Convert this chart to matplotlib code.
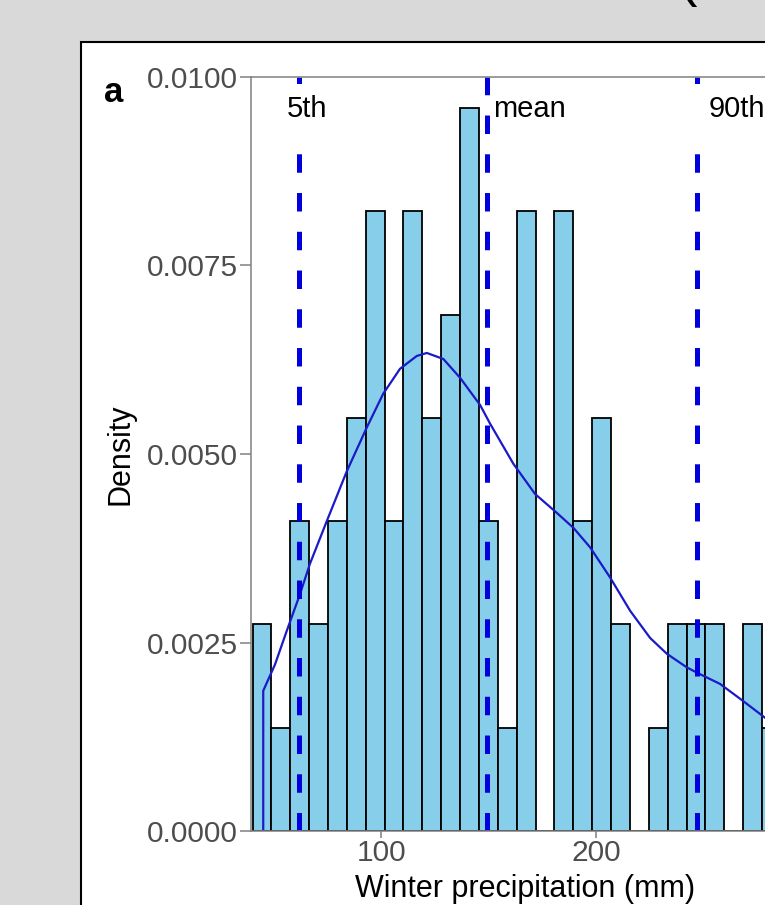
import matplotlib
matplotlib.use('Agg')
import matplotlib.pyplot as plt
from matplotlib.patches import Rectangle
import numpy as np

plt.rcParams['font.family'] = ['Liberation Sans', 'DejaVu Sans']
plt.rcParams['lines.scale_dashes'] = False

#---------------------------- data ----------------------------#

# histogram (density of each bin, bins of equal width)
bin_start = 40.0
bin_width = 8.79
bar_density = [0.00274, 0.00137, 0.00411, 0.00274, 0.00411, 0.00548, 0.00822,
               0.00411, 0.00822, 0.00548, 0.00685, 0.00959, 0.00411, 0.00137,
               0.00822, 0.0, 0.00822, 0.00411, 0.00548, 0.00274, 0.0, 0.00137,
               0.00274, 0.00274, 0.00274, 0.0, 0.00274, 0.00137]

# kernel density outline
kde_x = [45.0, 45.0, 50.5, 55.9, 62.1, 66.7, 74.6, 83.9, 93.2, 100.9, 108.7,
         116.5, 121.2, 128.9, 136.7, 146.0, 150.7, 161.5, 171.6, 181.7, 189.5,
         197.3, 206.6, 215.9, 225.2, 233.0, 242.3, 247.0, 257.8, 268.7, 278.8]
kde_y = [0.0, 0.00186, 0.00221, 0.00265, 0.00314, 0.00354, 0.00411, 0.00477,
         0.00535, 0.00580, 0.00613, 0.00630, 0.00634, 0.00626, 0.00601, 0.00565,
         0.00540, 0.00487, 0.00447, 0.00422, 0.00402, 0.00376, 0.00336, 0.00292,
         0.00256, 0.00235, 0.00217, 0.00210, 0.00195, 0.00172, 0.00150]

# reference lines and their labels
ref_names = ['5th', 'mean', '90th']
ref_values = [61.6, 149.4, 247.0]
label_x = [56.1, 152.0, 252.6]
label_y = 0.00957
label_boxed = [True, False, True]

x_ticks = [100, 200]
y_ticks = [0.0, 0.0025, 0.005, 0.0075, 0.01]

#---------------------------- figure ----------------------------#

W, H = 765, 905
fig = plt.figure(figsize=(W / 100, H / 100), dpi=100, facecolor='#d9d9d9')

# white plot background with black frame (cropped on the right and bottom)
fig.patches.append(Rectangle((81 / W, -0.1), 1.0, (H - 42) / H + 0.1,
                             transform=fig.transFigure, facecolor='white',
                             edgecolor='black', linewidth=1.5, zorder=-5))
# part of a glyph from the page above the panel
fig.text(679 / W, 1 + 4.7 / H, '(', fontsize=40, color='black',
         ha='left', va='baseline')

ax = fig.add_axes([251 / W, (H - 831) / H, 549 / W, 754 / H])
ax.set_facecolor('white')

lefts = bin_start + bin_width * np.arange(len(bar_density))
ax.bar(lefts, bar_density, width=bin_width, align='edge', color='#87ceeb',
       edgecolor='black', linewidth=1.3, zorder=1)

ax.plot(kde_x, kde_y, color='#1a1ac8', linewidth=1.6, zorder=2)

for v in ref_values:
    ax.axvline(v, color='#0000dd', linewidth=3.6, dashes=(13.3, 14.6), zorder=2.1)

for name, lx, boxed in zip(ref_names, label_x, label_boxed):
    box = None
    if boxed:
        box = dict(boxstyle='square,pad=0.55', mutation_aspect=0.7,
                   facecolor='white', edgecolor='none')
    ax.text(lx, label_y, name, fontsize=21, color='black', ha='left',
            va='center', bbox=box, zorder=2.3)

ax.set_xlim(39.3, 295)
ax.set_ylim(0, 0.01)
ax.set_xticks(x_ticks)
ax.set_yticks(y_ticks)
ax.set_yticklabels(['%.4f' % t for t in y_ticks])

for s in ax.spines.values():
    s.set_color('#808080')
    s.set_linewidth(1.1)
    s.set_zorder(2.5)

ax.tick_params(axis='y', length=8, width=1.1, color='#808080', pad=1.5,
               labelsize=21.5, labelcolor='#4d4d4d')
ax.tick_params(axis='x', length=5, width=1.1, color='#808080', pad=1,
               labelsize=21.5, labelcolor='#4d4d4d')

ax.set_xlabel('Winter precipitation (mm)', fontsize=22, color='black', va='baseline')
ax.xaxis.set_label_coords(0.5, (831 - 897) / 754)
ax.set_ylabel('Density', fontsize=22, color='black', va='center')
ax.yaxis.set_label_coords((121 - 251) / 549, 0.5)

# panel tag
fig.text(104 / W, 1 - 102 / H, 'a', fontsize=25, fontweight='bold',
         ha='left', va='baseline')

fig.savefig('out.png', dpi=100, facecolor=fig.get_facecolor())
